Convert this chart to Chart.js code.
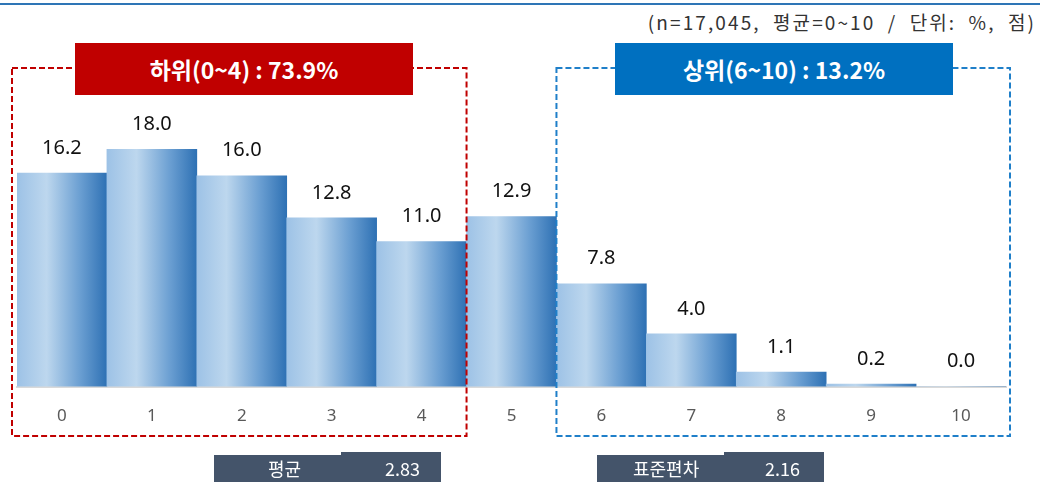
<!DOCTYPE html>
<html>
<head>
<meta charset="utf-8">
<script src="https://cdn.jsdelivr.net/npm/chart.js@4.4.0/dist/chart.umd.min.js"></script>
<style>
  html, body { margin: 0; padding: 0; background: #fff; }
  #wrap { position: relative; width: 1046px; height: 482px; overflow: hidden; font-family: "Noto Sans CJK KR", "Noto Sans", sans-serif; }
  #topline { position: absolute; left: 0; top: 3px; width: 1040px; height: 2px; background: #2e75b6; }
  #note { position: absolute; right: 10px; top: 8px; font-size: 19px; color: #333; letter-spacing: 2.1px; word-spacing: 6px; }
  .tag { position: absolute; top: 43px; width: 338px; height: 52px; line-height: 52px; text-align: center; color: #fff; font-size: 23px; font-weight: 700; z-index: 2; }
  #low { left: 75px; background: #c00000; }
  #high { left: 615px; background: #0070c0; }
  .stat { position: absolute; top: 455px; width: 227px; height: 27px; background: #44546a; color: #fff; font-size: 18px; line-height: 27px; }
  .stat i { position: absolute; top: -3px; right: 0; width: 100px; height: 3px; background: #44546a; }
  .stat span { position: absolute; }
  canvas { position: absolute; left: 0; top: 0; }
</style>
</head>
<body>
<div id="wrap">
  <div id="topline"></div>
  <div id="note">(n=17,045, 평균=0~10 / 단위: %, 점)</div>
  <canvas id="bars" width="1046" height="482"></canvas>
  <div class="tag" id="low">하위(0~4) : 73.9%</div>
  <div class="tag" id="high">상위(6~10) : 13.2%</div>
  <div class="stat" style="left:214px"><i></i><span style="left:54px">평균</span><span style="left:171px">2.83</span></div>
  <div class="stat" style="left:597px"><i></i><span style="left:36px">표준편차</span><span style="left:168px">2.16</span></div>
</div>
<script>
// scores 0~10 and share of respondents (%)
var scores = ["0", "1", "2", "3", "4", "5", "6", "7", "8", "9", "10"];
var shares = [16.2, 18.0, 16.0, 12.8, 11.0, 12.9, 7.8, 4.0, 1.1, 0.2, 0.0];
var lowGroup = [0, 4];
var highGroup = [6, 10];

// horizontal gradient for each bar
function barFill(ctx) {
    var chart = ctx.chart;
    var xs = chart.scales.x;
    if (!xs || !chart.chartArea) return "#7fa9d8";
    var cx = xs.getPixelForValue(ctx.dataIndex);
    var half = xs.width / scores.length / 2;
    var g = chart.ctx.createLinearGradient(cx - half, 0, cx + half, 0);
    g.addColorStop(0, "#9dc2e6");
    g.addColorStop(0.33, "#bdd7ee");
    g.addColorStop(0.7, "#6b9fd2");
    g.addColorStop(1, "#2e71b4");
    return g;
}

// value labels + dashed group frames
var extras = {
    id: "extras",
    afterDatasetsDraw: function(chart) {
        var c = chart.ctx;
        var meta = chart.getDatasetMeta(0);
        c.save();
        c.fillStyle = "#111";
        c.font = "20px 'Noto Sans'";
        c.textAlign = "center";
        c.textBaseline = "middle";
        meta.data.forEach(function(bar, i) {
            c.fillText(shares[i].toFixed(1), bar.x, bar.y - 25);
        });

        var xs = chart.scales.x;
        var step = xs.width / scores.length;
        function frame(range, color, padL, padR) {
            var l = xs.getPixelForValue(range[0]) - step / 2 - padL;
            var r = xs.getPixelForValue(range[1]) + step / 2 + padR;
            c.strokeStyle = color;
            c.lineWidth = 2;
            c.setLineDash([6, 3]);
            c.strokeRect(l, 68, r - l, 368);
        }
        frame(lowGroup, "#c00000", 5, 0);
        frame(highGroup, "#1f7fc9", 0, 4);
        c.restore();
    }
};

new Chart("bars", {
    type: "bar",
    data: {
        labels: scores,
        datasets: [{
            data: shares,
            backgroundColor: barFill,
            barPercentage: 1,
            categoryPercentage: 1
        }]
    },
    options: {
        responsive: false,
        animation: false,
        events: [],
        layout: { padding: { left: 17, right: 40, top: 123, bottom: 37 } },
        plugins: { legend: { display: false }, tooltip: { enabled: false } },
        scales: {
            x: {
                grid: { display: false, drawTicks: false },
                border: { display: true, color: "#d9d9d9", width: 2 },
                ticks: { color: "#595959", font: { size: 17, family: "'Noto Sans'" }, padding: 19 }
            },
            y: { display: false, min: 0, max: 20 }
        }
    },
    plugins: [extras]
});
</script>
</body>
</html>
